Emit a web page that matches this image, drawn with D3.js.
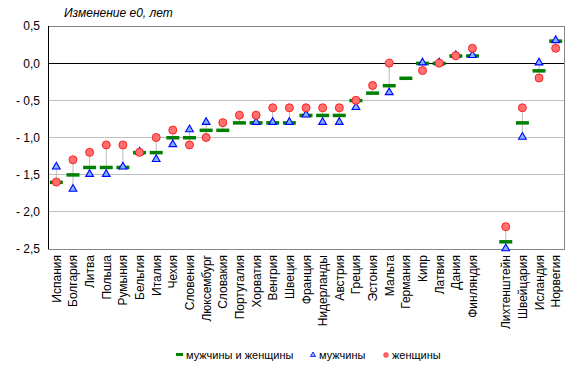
<!DOCTYPE html>
<html>
<head>
<meta charset="utf-8">
<script src="https://cdn.jsdelivr.net/npm/d3@7"></script>
<style>
  body { margin: 0; background: #fff; }
  svg { display: block; font-family: "Liberation Sans", Arial, sans-serif; }
</style>
</head>
<body>
<div id="chart"></div>
<script>
// страны (пустая строка - разрыв между ЕС и остальными)
var countries = ["Испания","Болгария","Литва","Польша","Румыния","Бельгия","Италия","Чехия","Словения","Люксембург",
  "Словакия","Португалия","Хорватия","Венгрия","Швеция","Франция","Нидерланды","Австрия","Греция","Эстония",
  "Мальта","Германия","Кипр","Латвия","Дания","Финляндия","","Лихтенштейн","Швейцария","Исландия","Норвегия"];
// мужчины и женщины
var total = [-1.6,-1.5,-1.4,-1.4,-1.4,-1.2,-1.2,-1.0,-1.0,-0.9,
  -0.9,-0.8,-0.8,-0.8,-0.8,-0.7,-0.7,-0.7,-0.5,-0.4,
  -0.3,-0.2,0.0,0.0,0.1,0.1,null,-2.4,-0.8,-0.1,0.3];
// мужчины (null - маркер не виден)
var men = [-1.4,-1.7,-1.5,-1.5,-1.4,-1.2,-1.3,-1.1,-0.9,-0.8,
  null,null,-0.8,-0.8,-0.8,-0.7,-0.8,-0.8,-0.6,null,
  -0.4,null,0.0,0.0,0.1,0.1,null,-2.5,-1.0,0.0,0.3];
// женщины
var women = [-1.6,-1.3,-1.2,-1.1,-1.1,-1.2,-1.0,-0.9,-1.1,-1.0,
  -0.8,-0.7,-0.7,-0.6,-0.6,-0.6,-0.6,-0.6,-0.5,-0.3,
  0.0,null,-0.1,0.0,0.1,0.2,null,-2.2,-0.6,-0.2,0.2];
var yTicks = [0.5,0,-0.5,-1,-1.5,-2,-2.5];

var W = 578, H = 373;
var m = {left:48, right:14, top:26, bottom:124};

var svg = d3.select("#chart").append("svg").attr("width",W).attr("height",H);

var x = d3.scaleBand().domain(d3.range(countries.length)).range([m.left, W-m.right]);
var y = d3.scaleLinear().domain([-2.5,0.5]).range([H-m.bottom, m.top]);
var cx = function(i){ return x(i) + x.bandwidth()/2; };

var fmt = function(v){
  var s = Math.abs(v).toFixed(1).replace(".",",");
  return v < 0 ? "- " + s : s;
};

// сетка
svg.append("g").selectAll("line").data(yTicks.filter(function(d){return d!==0 && d!==-2.5 && d!==0.5;}))
  .enter().append("line")
  .attr("x1",m.left).attr("x2",W-m.right)
  .attr("y1",function(d){return y(d);}).attr("y2",function(d){return y(d);})
  .attr("stroke","#c0c0c0").attr("stroke-width",1).attr("shape-rendering","crispEdges");

// рамка
svg.append("rect").attr("x",m.left).attr("y",y(0.5))
  .attr("width",W-m.right-m.left).attr("height",y(-2.5)-y(0.5))
  .attr("fill","none").attr("stroke","#868686").attr("shape-rendering","crispEdges");
svg.append("line").attr("x1",m.left).attr("x2",W-m.right).attr("y1",y(0)).attr("y2",y(0))
  .attr("stroke","#000").attr("shape-rendering","crispEdges");
svg.append("line").attr("x1",m.left).attr("x2",m.left).attr("y1",y(0.5)).attr("y2",y(-2.5))
  .attr("stroke","#000").attr("shape-rendering","crispEdges");

// подписи оси Y
var yAxis = d3.axisLeft(y).tickValues(yTicks).tickSize(0).tickPadding(8).tickFormat(fmt);
svg.append("g").attr("transform","translate("+m.left+",0)").call(yAxis)
  .call(function(g){ g.select(".domain").remove(); })
  .selectAll("text").attr("font-size","12px").attr("fill","#000")
  .attr("font-family","Liberation Sans, Arial, sans-serif");

// заголовок
svg.append("text").attr("x",64).attr("y",17).attr("font-size","12px").attr("font-style","italic")
  .text("Изменение e0, лет");

var idx = d3.range(countries.length);
var vals = function(i){ return [total[i],men[i],women[i]].filter(function(v){return v!==null;}); };

// вертикальные линии
svg.append("g").selectAll("line").data(idx.filter(function(i){return total[i]!==null;}))
  .enter().append("line")
  .attr("x1",cx).attr("x2",cx)
  .attr("y1",function(i){ return y(d3.max(vals(i))); })
  .attr("y2",function(i){ return y(d3.min(vals(i))); })
  .attr("stroke","#bcbcbc").attr("stroke-width",1);

// мужчины и женщины - зеленые черточки
svg.append("g").selectAll("rect").data(idx.filter(function(i){return total[i]!==null;}))
  .enter().append("rect")
  .attr("x",function(i){ return Math.max(m.left, cx(i)-6.5); })
  .attr("width",function(i){ return cx(i)+6.5-Math.max(m.left, cx(i)-6.5); })
  .attr("y",function(i){ return y(total[i])-1.5; }).attr("height",3.5)
  .attr("fill","#008000");

// мужчины - треугольники
var tri = d3.symbol().type(d3.symbolTriangle).size(26);
svg.append("g").selectAll("path").data(idx.filter(function(i){return men[i]!==null;}))
  .enter().append("path")
  .attr("d",tri)
  .attr("transform",function(i){ return "translate("+cx(i)+","+(y(men[i])-0.5)+")"; })
  .attr("fill","#7fb2ff").attr("stroke","#0000ff").attr("stroke-width",1.1);

// женщины - кружки
svg.append("g").selectAll("circle").data(idx.filter(function(i){return women[i]!==null;}))
  .enter().append("circle")
  .attr("cx",cx).attr("cy",function(i){ return y(women[i]); }).attr("r",4)
  .attr("fill","#ff7070").attr("stroke","#ff2020").attr("stroke-width",1);

// подписи стран
svg.append("g").selectAll("text").data(idx)
  .enter().append("text")
  .attr("transform",function(i){ return "translate("+(cx(i)+4.5)+","+(y(-2.5)+6)+") rotate(-90)"; })
  .attr("text-anchor","end").attr("font-size","12px")
  .text(function(i){ return countries[i]; });

// легенда
var leg = svg.append("g").attr("font-size","11px");
leg.append("rect").attr("x",176).attr("y",353).attr("width",7).attr("height",3).attr("fill","#008000");
leg.append("text").attr("x",186).attr("y",359).text("мужчины и женщины");
leg.append("path").attr("d",d3.symbol().type(d3.symbolTriangle).size(12))
  .attr("transform","translate(313,355)").attr("fill","#7fb2ff").attr("stroke","#0000ff").attr("stroke-width",0.8);
leg.append("text").attr("x",319).attr("y",359).text("мужчины");
leg.append("circle").attr("cx",386).attr("cy",355).attr("r",2.3)
  .attr("fill","#ff7070").attr("stroke","#ff2020").attr("stroke-width",0.8);
leg.append("text").attr("x",392).attr("y",359).text("женщины");
</script>
</body>
</html>
